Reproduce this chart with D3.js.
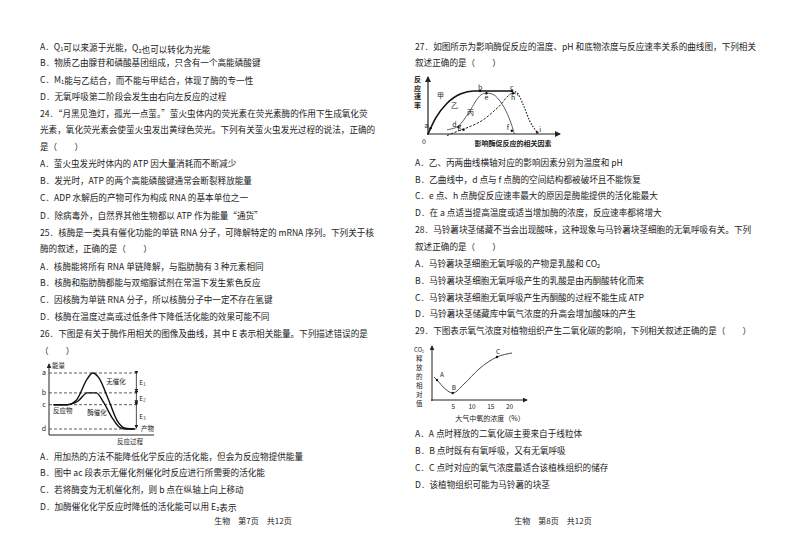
<!DOCTYPE html>
<html><head><meta charset="utf-8">
<script src="https://cdn.jsdelivr.net/npm/d3@7"></script>
<style>body{margin:0;background:#fff}text{font-family:"Noto Sans CJK SC","Noto Sans",sans-serif;fill:#222}</style>
</head><body><div id="page"></div>
<script>
// page text, one entry per line: [text, y-centre]
const leftLines = [
  ["A．Q_1可以来源于光能，Q_2也可以转化为光能", 47],
  ["B．物质乙由腺苷和磷酸基团组成，只含有一个高能磷酸键", 63],
  ["C．M_1能与乙结合，而不能与甲结合，体现了酶的专一性", 80],
  ["D．无氧呼吸第二阶段会发生由右向左反应的过程", 97],
  ["24．“月黑见渔灯，孤光一点萤。”萤火虫体内的荧光素在荧光素酶的作用下生成氧化荧", 114],
  ["光素，氧化荧光素会使萤火虫发出黄绿色荧光。下列有关萤火虫发光过程的说法，正确的", 130],
  ["是（　　）", 147],
  ["A．萤火虫发光时体内的 ATP 因大量消耗而不断减少", 164],
  ["B．发光时，ATP 的两个高能磷酸键通常会断裂释放能量", 181],
  ["C．ADP 水解后的产物可作为构成 RNA 的基本单位之一", 198],
  ["D．除病毒外，自然界其他生物都以 ATP 作为能量“通货”", 216],
  ["25．核酶是一类具有催化功能的单链 RNA 分子，可降解特定的 mRNA 序列。下列关于核", 233],
  ["酶的叙述，正确的是（　　）", 249],
  ["A．核酶能将所有 RNA 单链降解，与脂肪酶有 3 种元素相同", 267],
  ["B．核酶和脂肪酶都能与双缩脲试剂在常温下发生紫色反应", 283],
  ["C．因核酶为单链 RNA 分子，所以核酶分子中一定不存在氢键", 300],
  ["D．核酶在温度过高或过低条件下降低活化能的效果可能不同", 317],
  ["26．下图是有关于酶作用相关的图像及曲线，其中 E 表示相关能量。下列描述错误的是", 334],
  ["（　　）", 351],
  ["A．用加热的方法不能降低化学反应的活化能，但会为反应物提供能量", 457],
  ["B．图中 ac 段表示无催化剂催化时反应进行所需要的活化能", 473],
  ["C．若将酶变为无机催化剂，则 b 点在纵轴上向上移动", 490],
  ["D．加酶催化化学反应时降低的活化能可以用 E_2表示", 507]
];
const rightLines = [
  ["27．如图所示为影响酶促反应的温度、pH 和底物浓度与反应速率关系的曲线图，下列相关", 47],
  ["叙述正确的是（　　）", 63],
  ["A．乙、丙两曲线横轴对应的影响因素分别为温度和 pH", 163],
  ["B．乙曲线中，d 点与 f 点酶的空间结构都被破坏且不能恢复", 180],
  ["C．e 点、h 点酶促反应速率最大的原因是酶能提供的活化能最大", 196],
  ["D．在 a 点适当提高温度或适当增加酶的浓度，反应速率都将增大", 213],
  ["28．马铃薯块茎储藏不当会出现酸味，这种现象与马铃薯块茎细胞的无氧呼吸有关。下列", 230],
  ["叙述正确的是（　　）", 247],
  ["A．马铃薯块茎细胞无氧呼吸的产物是乳酸和 CO_2", 264],
  ["B．马铃薯块茎细胞无氧呼吸产生的乳酸是由丙酮酸转化而来", 281],
  ["C．马铃薯块茎细胞无氧呼吸产生丙酮酸的过程不能生成 ATP", 298],
  ["D．马铃薯块茎储藏库中氧气浓度的升高会增加酸味的产生", 314],
  ["29．下图表示氧气浓度对植物组织产生二氧化碳的影响，下列相关叙述正确的是（　　）", 331],
  ["A．A 点时释放的二氧化碳主要来自于线粒体", 434],
  ["B．B 点时既有有氧呼吸，又有无氧呼吸", 451],
  ["C．C 点时对应的氧气浓度最适合该植株组织的储存", 468],
  ["D．该植物组织可能为马铃薯的块茎", 485]
];
const footers = [["生物　第7页　共12页", 253], ["生物　第8页　共12页", 553]];

// fig 26: energy levels and curves (x = reaction progress 0..10)
const levelNames = ["a", "b", "c", "d"];
const levelValues = [10, 7.3, 5.7, 2.4];
const uncatalysed = [[0.5,5.7],[2,5.7],[3,6.3],[4.2,9.2],[4.8,10],[5.5,9.3],[6.5,6.5],[7.5,3.5],[8.4,2.5],[9.4,2.4]];
const enzymeCurve = [[0.5,5.7],[2,5.7],[3.2,6.2],[4.2,7.3],[5.2,7.3],[6,6],[7,3.8],[7.8,2.6],[8.6,2.4],[9.4,2.4]];
const energyLabels = [["E_1", 8.65], ["E_2", 6.5], ["E_3", 4.05]];

// fig 27: curves on a 0..10 factor axis, rate 0..10
const curveJia = [[0,0],[0.6,3],[1.5,5.8],[2.6,7.6],[3.6,8.1],[5,8.1],[6.6,8.1]];
const curveYi = [[1.5,0.8],[2.4,1.5],[3.2,4],[4,7],[4.6,7.7],[5.3,7.2],[6,5],[6.5,2.3],[6.8,0]];
const curveBing = [[1.5,-0.3],[2.3,0.5],[3.2,1.3],[4.3,2.6],[5.5,5],[6.7,7.7],[7.1,7.3]];
const curveDrop = [[6.6,8.1],[7,7.8],[7.5,5.5],[8,2.5],[8.6,0.3]];
const points27 = [["a",0.2,1.1],["b",4.1,8.1],["c",6.6,8.1],["d",2.4,1.3],["e",4.6,7.7],["f",6.6,0.6],["g",2.8,0.8],["h",6.7,7.7],["i",8.6,0.3]];

// fig 29: O2 concentration (%) vs relative CO2 release
const oxygen = [0, 0.8, 3, 5, 8, 12, 16.8, 20.8];
const co2Rel = [4.6, 4, 2.2, 1.4, 3.2, 6.2, 8.6, 9.4];
const oxyTicks = [5, 10, 15, 20];

const svg = d3.select("#page").append("svg").attr("width", 800).attr("height", 554);

function addText(g, str, x, y, size) {
  const t = g.append("text").attr("x", x).attr("y", y).attr("dy", "0.35em").attr("font-size", size);
  str.split(/(_\d)/).forEach(p => {
    if (/^_\d$/.test(p)) t.append("tspan").attr("font-size", size * 0.65).attr("dy", "0.25em").text(p[1])
      .clone().attr("dy", "-0.25em").text("");
    else if (p) t.append("tspan").text(p);
  });
  return t;
}
leftLines.forEach(([s, y]) => addText(svg, s, 40, y, 8.6));
rightLines.forEach(([s, y]) => addText(svg, s, 415, y, 8.6));
footers.forEach(([s, x]) => addText(svg, s, x, 521, 8).attr("text-anchor", "middle"));

const arrow = svg.append("defs").append("marker").attr("id", "ar").attr("viewBox", "0 0 6 6")
  .attr("refX", 5).attr("refY", 3).attr("markerWidth", 5).attr("markerHeight", 5).attr("orient", "auto");
arrow.append("path").attr("d", "M0,0L6,3L0,6Z").attr("fill", "#222");

// ---- fig 26
{
  const g = svg.append("g");
  const x = d3.scaleLinear().domain([0, 10]).range([49, 140]);
  const y = d3.scaleLinear().domain([2.4, 10]).range([429, 373]);
  g.append("line").attr("x1", 49).attr("y1", 435).attr("x2", 49).attr("y2", 364).attr("stroke", "#222").attr("marker-end", "url(#ar)");
  g.append("line").attr("x1", 49).attr("y1", 435).attr("x2", 154).attr("y2", 435).attr("stroke", "#222");
  levelValues.forEach((v, i) => {
    g.append("line").attr("x1", 49).attr("x2", x(9.6)).attr("y1", y(v)).attr("y2", y(v))
      .attr("stroke", "#333").attr("stroke-dasharray", "3,2").attr("stroke-width", 0.8);
    addText(g, levelNames[i], 44, y(v), 7).attr("text-anchor", "middle");
  });
  const line = d3.line().x(d => x(d[0])).y(d => y(d[1])).curve(d3.curveMonotoneX);
  g.append("path").attr("d", line(uncatalysed)).attr("fill", "none").attr("stroke", "#111").attr("stroke-width", 1.4);
  g.append("path").attr("d", line(enzymeCurve)).attr("fill", "none").attr("stroke", "#111").attr("stroke-width", 1.4);
  const ex = x(9.6);
  [[10, 7.3], [7.3, 5.7], [5.7, 2.4]].forEach(([a, b]) => {
    g.append("line").attr("x1", ex).attr("x2", ex).attr("y1", y(a) + 1).attr("y2", y(b) - 1).attr("stroke", "#222").attr("stroke-width", 0.8)
      .attr("marker-end", "url(#ar)").attr("marker-start", "url(#ar)");
  });
  energyLabels.forEach(([s, v]) => addText(g, s, ex + 3, y(v), 6.5));
  addText(g, "能量", 52, 366, 6.5);
  addText(g, "无催化", x(6.3), y(8.8), 6.5);
  addText(g, "酶催化", x(4.2), y(4.6), 6.5);
  addText(g, "反应物", 53, y(4.9), 6.5);
  addText(g, "产物", 141, y(2.5), 6.5);
  addText(g, "反应过程", 117, 442, 6.5);
}

// ---- fig 27
{
  const g = svg.append("g");
  const x = d3.scaleLinear().domain([0, 10]).range([428, 555]);
  const y = d3.scaleLinear().domain([0, 10]).range([134, 81]);
  g.append("line").attr("x1", 428).attr("y1", 135).attr("x2", 428).attr("y2", 77).attr("stroke", "#222").attr("stroke-width", 1.2).attr("marker-end", "url(#ar)");
  g.append("line").attr("x1", 427).attr("y1", 134).attr("x2", 560).attr("y2", 134).attr("stroke", "#222").attr("stroke-width", 1.2).attr("marker-end", "url(#ar)");
  const line = d3.line().x(d => x(d[0])).y(d => y(d[1])).curve(d3.curveMonotoneX);
  g.append("path").attr("d", line(curveJia)).attr("fill", "none").attr("stroke", "#111").attr("stroke-width", 1.6);
  g.append("path").attr("d", d3.line().x(d => x(d[0])).y(d => y(d[1])).curve(d3.curveCardinal)(curveYi)).attr("fill", "none").attr("stroke", "#333").attr("stroke-width", 0.8);
  g.append("path").attr("d", line(curveBing)).attr("fill", "none").attr("stroke", "#222").attr("stroke-dasharray", "2.5,1.5");
  g.append("path").attr("d", line(curveDrop)).attr("fill", "none").attr("stroke", "#222").attr("stroke-dasharray", "1.5,1.5").attr("stroke-width", 1.2);
  points27.forEach(([n, a, b]) => {
    g.append("circle").attr("cx", x(a)).attr("cy", y(b)).attr("r", 1.2).attr("fill", "#111");
    const dx = n === "a" || n === "d" || n === "f" || n === "g" ? -4 : 0;
    const dy = n === "b" || n === "c" ? -4 : (n === "e" || n === "h" ? 4 : -3);
    addText(g, n, x(a) + dx + (n === "i" ? 3 : 0), y(b) + dy, 7).attr("text-anchor", "middle");
  });
  ["反", "应", "速", "率"].forEach((c, i) => addText(g, c, 414, 80 + i * 8.5, 7).attr("font-weight", "bold"));
  addText(g, "0", 424, 142, 7).attr("text-anchor", "middle");
  addText(g, "影响酶促反应的相关因素", 513, 144, 7).attr("text-anchor", "middle").attr("font-weight", "bold");
  addText(g, "甲", 437, 96, 7);
  addText(g, "乙", 451, 106, 7);
  addText(g, "丙", 467, 113, 7);
}

// ---- fig 29
{
  const g = svg.append("g");
  const x = d3.scaleLinear().domain([0, 20]).range([434, 509]);
  const y = d3.scaleLinear().domain([0, 10]).range([400, 350]);
  g.append("line").attr("x1", 432).attr("y1", 401).attr("x2", 432).attr("y2", 346).attr("stroke", "#222").attr("marker-end", "url(#ar)");
  g.append("line").attr("x1", 431).attr("y1", 400).attr("x2", 527).attr("y2", 400).attr("stroke", "#222").attr("marker-end", "url(#ar)");
  const ax = g.append("g").attr("transform", "translate(0,400)").call(d3.axisBottom(x).tickValues(oxyTicks).tickSize(0).tickPadding(4));
  ax.select(".domain").remove();
  ax.selectAll("text").attr("font-size", 6.5).attr("font-family", "Liberation Serif");
  const pts = oxygen.map((o, i) => [o, co2Rel[i]]);
  g.append("path").attr("d", d3.line().x(d => x(d[0])).y(d => y(d[1])).curve(d3.curveMonotoneX)(pts))
    .attr("fill", "none").attr("stroke", "#333").attr("stroke-width", 0.9);
  [["A", 1], ["B", 3], ["C", 6]].forEach(([n, i]) => {
    g.append("circle").attr("cx", x(oxygen[i])).attr("cy", y(co2Rel[i])).attr("r", 1.2).attr("fill", "#111");
    addText(g, n, x(oxygen[i]) + (n === "A" ? 3 : -1), y(co2Rel[i]) - 5, 6.5);
  });
  addText(g, "CO_2", 414, 350, 6);
  ["释", "放", "的", "相", "对", "值"].forEach((c, i) => addText(g, c, 416, 359 + i * 9, 6.5));
  addText(g, "大气中氧的浓度（%）", 490, 419, 7).attr("text-anchor", "middle");
}
</script></body></html>
